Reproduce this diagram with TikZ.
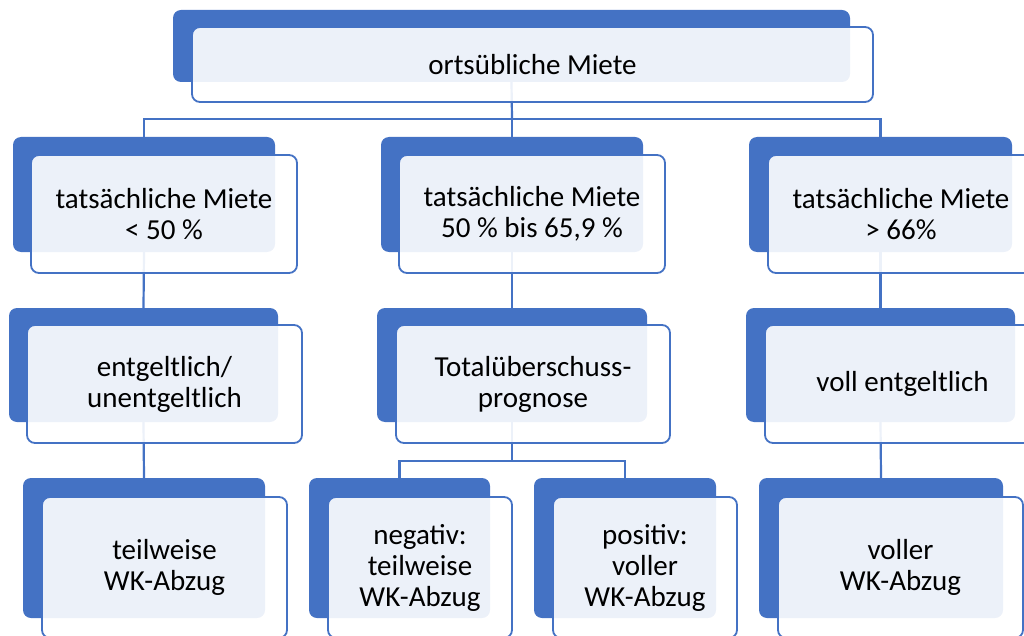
\documentclass[tikz,border=0pt]{standalone}
\usepackage{fontspec}
\setmainfont{Carlito}
\usetikzlibrary{backgrounds}
\definecolor{myblue}{HTML}{4472C4}
\tikzset{
  backbox/.style={fill=myblue, draw=none, rounded corners=8pt, inner sep=0pt},
  frontbox/.style={draw=myblue, line width=1.8pt, fill=white, fill opacity=0.9, text opacity=1,
    rounded corners=8pt, inner sep=0pt, align=center, font=\fontsize{29}{31}\selectfont},
  conn/.style={draw=myblue, line width=2.2pt}
}
\begin{document}
\begin{tikzpicture}[x=1pt,y=-1pt]
\useasboundingbox (0,0) rectangle (1024,636);
\clip (0,0) rectangle (1024,636);
% top
\node[backbox, minimum width=677pt, minimum height=72pt] (top) at (511.5,46) {};
\node[frontbox, minimum width=681pt, minimum height=75pt] (topf) at (532.5,64.5) {ortsübliche Miete};
% row 2
\node[backbox, minimum width=262pt, minimum height=115pt] (a2) at (144,194.5) {};
\node[frontbox, minimum width=266pt, minimum height=118pt] (a2f) at (164,214) {tatsächliche Miete\\< 50 \%};
\node[backbox, minimum width=262pt, minimum height=115pt] (b2) at (512,194.5) {};
\node[frontbox, minimum width=266pt, minimum height=118pt] (b2f) at (532,214) {tatsächliche Miete\\50 \% bis 65,9 \%};
\node[backbox, minimum width=263pt, minimum height=115pt] (c2) at (880.5,194.5) {};
\node[frontbox, minimum width=266pt, minimum height=118pt] (c2f) at (901,214) {tatsächliche Miete\\> 66\%};
% row 3
\node[backbox, minimum width=269pt, minimum height=114pt] (a3) at (143.5,365) {};
\node[frontbox, minimum width=275pt, minimum height=118pt] (a3f) at (164.5,384) {entgeltlich/\\unentgeltlich};
\node[backbox, minimum width=270pt, minimum height=114pt] (b3) at (512,365) {};
\node[frontbox, minimum width=274pt, minimum height=118pt] (b3f) at (533,384) {Totalüberschuss-\\prognose};
\node[backbox, minimum width=269pt, minimum height=114pt] (c3) at (880.5,365) {};
\node[frontbox, minimum width=275pt, minimum height=118pt] (c3f) at (902.5,384) {voll entgeltlich};
% row 4
\node[backbox, minimum width=242pt, minimum height=140pt] (a4) at (144,548) {};
\node[frontbox, minimum width=245pt, minimum height=141pt] (a4f) at (164.5,567.5) {teilweise\\WK-Abzug};
\node[backbox, minimum width=181pt, minimum height=140pt] (n4) at (399.5,548) {};
\node[frontbox, minimum width=184pt, minimum height=141pt] (n4f) at (420,567.5) {negativ:\\teilweise\\WK-Abzug};
\node[backbox, minimum width=182pt, minimum height=140pt] (p4) at (625,548) {};
\node[frontbox, minimum width=184pt, minimum height=141pt] (p4f) at (645,567.5) {positiv:\\voller\\WK-Abzug};
\node[backbox, minimum width=244pt, minimum height=140pt] (c4) at (881,548) {};
\node[frontbox, minimum width=245pt, minimum height=141pt] (c4f) at (900.5,567.5) {voller\\WK-Abzug};
% connectors
\coordinate (j1) at (512,119);
\coordinate (j2) at (512,461);
\begin{pgfonlayer}{background}
\draw[conn] (top.south) -- (j1);
\draw[conn] (j1) -| (a2.north);
\draw[conn] (j1) -- (b2.north);
\draw[conn] (j1) -| (c2.north);
\draw[conn] (a2.south) -- (a3.north);
\draw[conn] (b2.south) -- (b3.north);
\draw[conn] (c2.south) -- (c3.north);
\draw[conn] (a3.south) -- (a4.north);
\draw[conn] (c3.south) -- (c4.north);
\draw[conn] (b3.south) -- (j2);
\draw[conn] (j2) -| (n4.north);
\draw[conn] (j2) -| (p4.north);
\end{pgfonlayer}
\end{tikzpicture}
\end{document}
